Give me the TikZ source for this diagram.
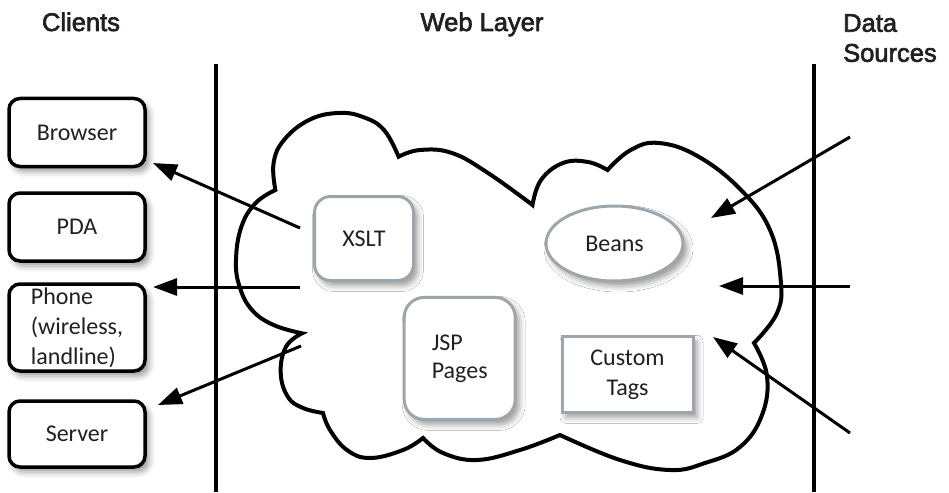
\documentclass[tikz,border=0pt]{standalone}
\usepackage{fontspec}
\setmainfont{Carlito}
\newfontfamily\headfont{Liberation Sans}[FakeBold=2.5]
\usetikzlibrary{arrows.meta,shapes.geometric,shadows.blur}

\definecolor{inkgray}{RGB}{35,31,32}
\definecolor{compgray}{RGB}{158,166,173}

\tikzset{
  header/.style={font=\headfont\fontsize{25.5}{30}\selectfont, text=inkgray, inner sep=0pt},
  softshadow/.style={blur shadow={shadow xshift=4pt, shadow yshift=-5pt,
      shadow blur radius=6pt, shadow opacity=40}},
  client/.style={draw=black, line width=3.5pt, rounded corners=11pt, fill=white,
      minimum width=136pt, inner sep=0pt, align=left, text=inkgray,
      font=\fontsize{24}{30}\selectfont, softshadow},
  comp/.style={draw=compgray, line width=3pt, fill=white, inner sep=0pt,
      text=inkgray, font=\fontsize{24}{30}\selectfont, softshadow},
  divider/.style={line width=4.5pt, draw=black},
  cloudline/.style={line width=4pt, draw=black, fill=white, line join=miter},
  flow/.style={line width=3pt, draw=black,
      -{Triangle[length=24pt, width=17pt, fill=black]}},
}

\begin{document}
\begin{tikzpicture}[x=1pt, y=-1pt]
\useasboundingbox (0,0) rectangle (949,492);

% column headings
\node[header, anchor=base] (hclients) at (81,31) {Clients};
\node[header, anchor=base] (hweb) at (482,31) {Web Layer};
\node[header, anchor=north west, align=left] (hdata) at (843,14) {Data\\Sources};

% tier boundaries
\draw[divider] (216,64) -- (216,492);
\draw[divider] (814,64) -- (814,492);

% client devices
\node[client, minimum height=68pt] (browser) at (77,132.5) {Browser};
\node[client, minimum height=68pt] (pda) at (77,227) {PDA};
\node[client, minimum height=87pt] (phone) at (77,327.5) {Phone\\(wireless,\\landline)};
\node[client, minimum height=66pt] (server) at (77,434) {Server};

% web layer cloud
\draw[cloudline]
  plot[smooth, tension=0.7] coordinates {(275.4,190) (273.6,163) (284,140) (309,120) (338,113) (363,117) (384,130) (398.6,156.7)}
  -- plot[smooth, tension=0.7] coordinates {(398.6,156.7) (420,150) (452,153) (488,173) (532.5,205)}
  -- plot[smooth, tension=0.7] coordinates {(532.5,205) (541,180) (563,163) (588,162) (607.5,170)}
  -- plot[smooth, tension=0.7] coordinates {(607.5,170) (630.7,150) (659,143) (698.6,156.7) (741,190) (770,230) (780.7,280) (777,313) (754,343)}
  -- plot[smooth, tension=0.7] coordinates {(754,343) (767,376) (762,415) (740,447) (705,463) (670,470) (620,460) (560,435)}
  -- plot[smooth, tension=0.7] coordinates {(560,435) (520,450) (477,460) (443,453) (423,438)}
  -- plot[smooth, tension=0.7] coordinates {(423,438) (403,450) (370,458) (347,450) (330,430) (323,413)}
  -- plot[smooth, tension=0.7] coordinates {(323,413) (303,408) (288,397) (280.7,373) (286,346.7) (302,333.3)}
  -- plot[smooth, tension=0.7] coordinates {(302,333.3) (273.6,325) (252,310) (239.6,286.7) (236,260) (241.4,226.7) (255.7,203) (275.4,190)}
  -- cycle;

% web layer components
\node[comp, rounded corners=16pt, minimum width=99pt, minimum height=84pt] (xslt) at (364,238.5) {XSLT};
\node[comp, ellipse, minimum width=137pt, minimum height=75pt] (beans) at (614.5,243.5) {Beans};
\node[comp, rounded corners=20pt, minimum width=111pt, minimum height=122pt, align=left,
      font=\fontsize{24}{28}\selectfont] (jsp) at (459.7,358.4) {JSP\\Pages};
\node[comp, minimum width=131pt, minimum height=76pt, align=center] (tags) at (627.5,374.3) {Custom\\Tags};

% flow end points
\coordinate (outBrowser) at (300,228);
\coordinate (toBrowser) at (153,163);
\coordinate (outPhone) at (300,287);
\coordinate (toPhone) at (153,287);
\coordinate (outServer) at (301,346);
\coordinate (toServer) at (158,405);
\coordinate (srcA) at (850,137);
\coordinate (inA) at (711,218);
\coordinate (srcB) at (850,286);
\coordinate (inB) at (719,286);
\coordinate (srcC) at (850,433);
\coordinate (inC) at (713,337);

% flows
\draw[flow] (outBrowser) -- (toBrowser);
\draw[flow] (outPhone) -- (toPhone);
\draw[flow] (outServer) -- (toServer);
\draw[flow] (srcA) -- (inA);
\draw[flow] (srcB) -- (inB);
\draw[flow] (srcC) -- (inC);
\end{tikzpicture}
\end{document}
